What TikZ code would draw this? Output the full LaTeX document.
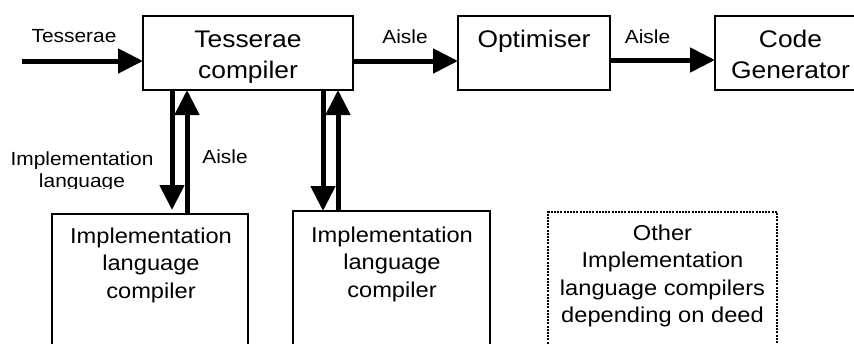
\documentclass[tikz,border=0pt]{standalone}
\usepackage{fontspec}
\setmainfont[FakeStretch=1.1]{Liberation Sans}
\usetikzlibrary{arrows.meta,calc}
\begin{document}
\begin{tikzpicture}[x=1pt,y=-1pt,
  box/.style={draw,line width=2pt,outer sep=0pt,inner sep=0pt,anchor=north west},
  dotbox/.style={box,dash pattern=on 2pt off 1.2pt},
  bigtext/.style={inner sep=0pt,anchor=north,align=center,font=\fontsize{24}{31}\selectfont},
  midtext/.style={inner sep=0pt,anchor=north,align=center,font=\fontsize{21.5}{27.5}\selectfont},
  lbl/.style={inner sep=0pt,align=center,font=\fontsize{19}{22}\selectfont},
  flow/.style={line width=5pt,-{Triangle[length=25pt,width=24pt]}}
]
\useasboundingbox (0,0) rectangle (854,343);
\clip (0,0) rectangle (854,343);
\fill[white] (0,0) rectangle (854,343);

% boxes
\node[box,minimum width=210pt,minimum height=74pt] (tc) at (143,16) {};
\node[box,minimum width=152pt,minimum height=74pt] (opt) at (458,16) {};
\node[box,minimum width=151pt,minimum height=74pt] (cg) at (715,16) {};
\node[box,minimum width=196pt,minimum height=190pt] (lb) at (52,214) {};
\node[box,minimum width=197pt,minimum height=190pt] (mb) at (293,211) {};
\node[dotbox,minimum width=229pt,minimum height=190pt] (ob) at (548,212) {};

% box texts
\node[bigtext] (tct) at (248,30.3) {Tesserae\\compiler};
\node[bigtext] (optt) at (534,30.3) {Optimiser};
\node[bigtext] (cgt) at (790.5,30.3) {Code\\Generator};
\node[midtext] (lbt) at (151,227.6) {Implementation\\language\\compiler};
\node[midtext] (mbt) at (392,226.6) {Implementation\\language\\compiler};
\node[midtext] (obt) at (662.5,224.6) {Other\\Implementation\\language compilers\\depending on deed};

% labels
\node[lbl,anchor=base] (l1) at (74,42) {Tesserae};
\node[lbl,anchor=base] (l2) at (405,43) {Aisle};
\node[lbl,anchor=base] (l3) at (647.5,43) {Aisle};
\node[lbl,anchor=base] (l4) at (225,163) {Aisle};
\begin{scope}
  \clip (0,140) rectangle (170,188.5);
  \node[lbl,anchor=north] (l5) at (82,151.4) {Implementation\\language};
\end{scope}

% horizontal flow
\coordinate (in) at (22,61);
\draw[flow] (in) -- (in -| tc.west);
\draw[flow] (tc.east |- in) -- (opt.west |- in);
\coordinate (h2) at (610,60);
\draw[flow] (opt.east |- h2) -- (cg.west |- h2);

% vertical pairs
\coordinate (d1) at ([xshift=29pt]tc.south west);
\coordinate (u1) at ([xshift=44pt]tc.south west);
\coordinate (d2) at ([xshift=180pt]tc.south west);
\coordinate (u2) at ([xshift=195pt]tc.south west);
\draw[flow,shorten >=4pt] (d1) -- (d1 |- lb.north);
\draw[flow] (u1 |- lb.north) -- (u1);
\draw[flow] (d2) -- (d2 |- mb.north);
\draw[flow] (u2 |- mb.north) -- (u2);
\end{tikzpicture}
\end{document}
